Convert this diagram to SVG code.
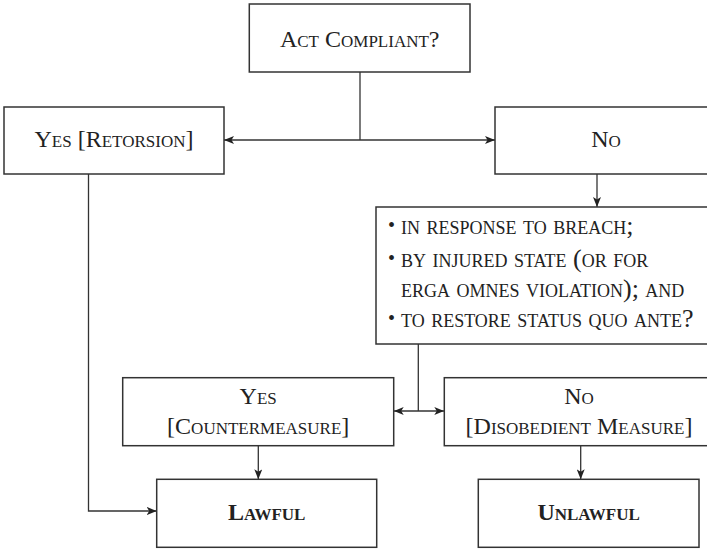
<svg xmlns="http://www.w3.org/2000/svg" width="707" height="550" viewBox="0 0 707 550">
<defs>
<marker id="ah" viewBox="0 0 10 8" refX="10" refY="4" markerWidth="10" markerHeight="8" markerUnits="userSpaceOnUse" orient="auto-start-reverse">
<path d="M0,0 L10,4 L0,8 L2.5,4 z" fill="#222"/>
</marker>
<style>
.box{fill:#fff;stroke:#333;stroke-width:1.5}
.lbl{font-family:"Liberation Serif",serif;font-size:24px;font-variant:small-caps;fill:#222;text-anchor:middle}
.bul{font-family:"Liberation Serif",serif;font-size:26px;font-variant:small-caps;fill:#222}
.dot{font-family:"Liberation Serif",serif;font-size:20px;fill:#222}
.bold{font-weight:bold}
.conn{fill:none;stroke:#333;stroke-width:1.3}
</style>
</defs>
<rect width="707" height="550" fill="#fff"/>
<g id="connectors">
<path class="conn" d="M360,72 V140"/>
<path class="conn" d="M224,140 H495" marker-start="url(#ah)" marker-end="url(#ah)"/>
<path class="conn" d="M597,174 V207" marker-end="url(#ah)"/>
<path class="conn" d="M88.5,174 V511 H156.7" marker-end="url(#ah)"/>
<path class="conn" d="M418.3,344 V411"/>
<path class="conn" d="M393.7,411 H444.3" marker-start="url(#ah)" marker-end="url(#ah)"/>
<path class="conn" d="M258.3,445.7 V479.3" marker-end="url(#ah)"/>
<path class="conn" d="M580.7,445.7 V479.3" marker-end="url(#ah)"/>
</g>
<g id="act">
<rect class="box" x="249.3" y="4" width="220.7" height="68"/>
<text class="lbl" x="359.7" y="46.7">Act Compliant?</text>
</g>
<g id="yes-retorsion">
<rect class="box" x="4" y="107" width="220" height="67"/>
<text class="lbl" x="114" y="146.7">Yes [Retorsion]</text>
</g>
<g id="no">
<rect class="box" x="495" y="107" width="222" height="67"/>
<text class="lbl" x="606" y="146.7">No</text>
</g>
<g id="criteria">
<rect class="box" x="376" y="207" width="340" height="137"/>
<text class="dot" x="388" y="232">•</text>
<text class="bul" x="401" y="234">in response to breach;</text>
<text class="dot" x="388" y="265">•</text>
<text class="bul" x="401" y="267">by injured state (or for</text>
<text class="bul" x="401" y="297">erga omnes violation); and</text>
<text class="dot" x="388" y="325">•</text>
<text class="bul" x="401" y="327">to restore status quo ante?</text>
</g>
<g id="countermeasure">
<rect class="box" x="122.7" y="377.7" width="271" height="68"/>
<text class="lbl" x="258.2" y="404">Yes</text>
<text class="lbl" x="258.2" y="434">[Countermeasure]</text>
</g>
<g id="disobedient">
<rect class="box" x="444.3" y="377.7" width="270" height="68"/>
<text class="lbl" x="579" y="404">No</text>
<text class="lbl" x="579" y="434">[Disobedient Measure]</text>
</g>
<g id="lawful">
<rect class="box" x="156.7" y="479.3" width="220" height="68"/>
<text class="lbl bold" x="266.7" y="520">Lawful</text>
</g>
<g id="unlawful">
<rect class="box" x="478.3" y="479.3" width="220.7" height="68"/>
<text class="lbl bold" x="588.6" y="520">Unlawful</text>
</g>
</svg>
